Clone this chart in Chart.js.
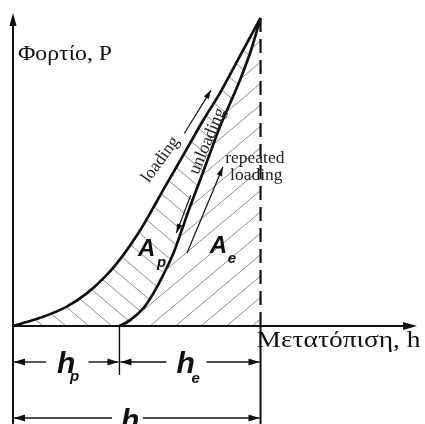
<!DOCTYPE html>
<html><head><meta charset="utf-8">
<script src="https://cdn.jsdelivr.net/npm/chart.js@4/dist/chart.umd.min.js"></script>
<style>html,body{margin:0;padding:0;background:#fff;}canvas{display:block;}</style>
</head><body>
<canvas id="c" width="425" height="424"></canvas>
<script>
// ---- data (normalised displacement h, normalised load P) ----
const loadH   = [0, 0.122, 0.217, 0.298, 0.379, 0.446, 0.506, 0.554, 0.607, 0.661, 0.715, 0.769, 0.836, 0.917, 1];
const loadP   = [0, 0.030, 0.063, 0.106, 0.166, 0.231, 0.301, 0.366, 0.442, 0.517, 0.593, 0.669, 0.756, 0.877, 1];
const unloadH = [0.43, 0.473, 0.526, 0.567, 0.607, 0.648, 0.682, 0.715, 0.756, 0.796, 0.836, 0.877, 0.917, 0.962, 1];
const unloadP = [0, 0.019, 0.057, 0.106, 0.166, 0.236, 0.312, 0.387, 0.474, 0.561, 0.647, 0.723, 0.799, 0.896, 1];
const maxH = [1, 1];
const maxP = [0, 1];
const loadArrowH   = [0.692, 0.800];
const loadArrowP   = [0.625, 0.766];
const unloadArrowH = [0.718, 0.660];
const unloadArrowP = [0.425, 0.302];
const reloadArrowH = [0.703, 0.848];
const reloadArrowP = [0.237, 0.516];
const hpValue = 0.43;
const hValue = 1;
const yTitle = 'Φορτίο, P';
const xTitle = 'Μετατόπιση, h';
const curveLabels = ['loading', 'unloading'];
const reloadLabel = ['repeated', 'loading'];
const areaLabels = [['A', 'p'], ['A', 'e']];
const dimLabels = [['h', 'p'], ['h', 'e'], ['h', '']];

const pts = (hs, ps) => hs.map((h, i) => ({x: h, y: ps[i]}));
const INK = '#111';

function trace(ctx, el, reverse) {
  const n = el.length;
  if (!reverse) {
    ctx.lineTo(el[0].x, el[0].y);
    for (let i = 1; i < n; i++) {
      const p = el[i - 1], c = el[i];
      ctx.bezierCurveTo(p.cp2x, p.cp2y, c.cp1x, c.cp1y, c.x, c.y);
    }
  } else {
    ctx.lineTo(el[n - 1].x, el[n - 1].y);
    for (let i = n - 1; i > 0; i--) {
      const c = el[i], p = el[i - 1];
      ctx.bezierCurveTo(c.cp1x, c.cp1y, p.cp2x, p.cp2y, p.x, p.y);
    }
  }
}
function hatch(ctx, x0, y0, step, ang, up) {
  const dx = Math.cos(ang), dy = Math.sin(ang) * (up ? -1 : 1);
  for (let k = -40; k <= 40; k++) {
    const xi = x0 + k * step;
    ctx.beginPath();
    ctx.moveTo(xi - dx * 600, y0 - dy * 600);
    ctx.lineTo(xi + dx * 600, y0 + dy * 600);
    ctx.stroke();
  }
}
function head(ctx, x1, y1, x2, y2, len, hw) {
  const a = Math.atan2(y2 - y1, x2 - x1);
  const c = Math.cos(a), s = Math.sin(a);
  ctx.beginPath();
  ctx.moveTo(x2, y2);
  ctx.lineTo(x2 - c * len - s * hw, y2 - s * len + c * hw);
  ctx.lineTo(x2 - c * len + s * hw, y2 - s * len - c * hw);
  ctx.closePath();
  ctx.fill();
}
function arrowLine(ctx, xa, xb, y, headAt) {
  ctx.beginPath(); ctx.moveTo(xa, y); ctx.lineTo(xb, y); ctx.stroke();
  if (headAt === 'a') head(ctx, xb, y, xa, y, 11, 3.5); else head(ctx, xa, y, xb, y, 11, 3.5);
}
function fitText(ctx, t, x, y, w) {
  const m = ctx.measureText(t).width;
  ctx.save(); ctx.translate(x, y); ctx.scale(w / m, 1); ctx.fillText(t, 0, 0); ctx.restore();
}

const drawPlugin = {
  id: 'sketch',
  beforeDatasetsDraw(chart) {
    const ctx = chart.ctx, X = v => chart.scales.x.getPixelForValue(v), Y = v => chart.scales.y.getPixelForValue(v);
    const L = chart.getDatasetMeta(0).data, U = chart.getDatasetMeta(1).data;
    ctx.save();
    ctx.strokeStyle = '#8c8c8c'; ctx.lineWidth = 1;
    ctx.save();
    ctx.beginPath();
    ctx.moveTo(L[0].x, L[0].y);
    trace(ctx, L, false);
    trace(ctx, U, true);
    ctx.closePath();
    ctx.clip();
    hatch(ctx, X(0) + 30, Y(0), 23, 40 * Math.PI / 180, false);
    ctx.restore();
    ctx.save();
    ctx.beginPath();
    ctx.moveTo(U[0].x, U[0].y);
    trace(ctx, U, false);
    ctx.lineTo(X(hValue), Y(0));
    ctx.closePath();
    ctx.clip();
    hatch(ctx, X(0) + 137, Y(0), 25.5, 40 * Math.PI / 180, true);
    ctx.restore();
    ctx.restore();
  },
  afterDatasetsDraw(chart) {
    const ctx = chart.ctx, X = v => chart.scales.x.getPixelForValue(v), Y = v => chart.scales.y.getPixelForValue(v);
    const ca = chart.chartArea;
    ctx.save();
    ctx.fillStyle = INK; ctx.strokeStyle = INK;
    ctx.lineWidth = 2;
    ctx.beginPath();
    ctx.moveTo(X(0), 424); ctx.lineTo(X(0), ca.top + 6);
    ctx.moveTo(X(0), Y(0)); ctx.lineTo(ca.right - 6, Y(0));
    ctx.stroke();
    head(ctx, X(0), 100, X(0), ca.top + 3, 13, 3.6);
    head(ctx, 300, Y(0), ca.right + 3, Y(0), 14, 4);
    ctx.beginPath();
    ctx.moveTo(X(hValue), Y(0)); ctx.lineTo(X(hValue), 424);
    ctx.stroke();
    ctx.lineWidth = 1.4;
    ctx.beginPath();
    ctx.moveTo(X(hpValue), Y(0)); ctx.lineTo(X(hpValue), Y(0) + 49);
    ctx.stroke();
    const heads = [[loadArrowH, loadArrowP], [unloadArrowH, unloadArrowP], [reloadArrowH, reloadArrowP]];
    heads.forEach(([hh, pp]) => head(ctx, X(hh[0]), Y(pp[0]), X(hh[1]), Y(pp[1]), 9, 2.8));
    ctx.lineWidth = 1.4;
    const y1 = Y(0) + 36, y2 = Y(0) + 92;
    const x0 = X(0), xp = X(hpValue), x1 = X(hValue);
    arrowLine(ctx, x0 + 1, x0 + 33, y1, 'a');
    arrowLine(ctx, xp - 31, xp - 1, y1, 'b');
    arrowLine(ctx, xp + 1, xp + 47, y1, 'a');
    arrowLine(ctx, x1 - 54, x1 - 1, y1, 'b');
    arrowLine(ctx, x0 + 1, x0 + 99, y2, 'a');
    arrowLine(ctx, x0 + 130, x1 - 1, y2, 'b');
    ctx.textBaseline = 'alphabetic'; ctx.textAlign = 'left';
    const big = 'bold italic 30px "Liberation Sans"', sub = 'bold italic 15px "Liberation Sans"';
    const dimPos = [[x0 + 44, y1 + 11], [xp + 57, y1 + 11], [x0 + 108, y2 + 12]];
    dimLabels.forEach(([m, s], i) => {
      const [tx, ty] = dimPos[i];
      ctx.font = big; ctx.fillText(m, tx, ty);
      if (s) { ctx.font = sub; ctx.fillText(s, tx + (s === 'p' ? 13 : 15), ty + (s === 'p' ? 8 : 10)); }
    });
    const aBig = 'bold italic 24px "Liberation Sans"', aSub = 'bold italic 15px "Liberation Sans"';
    const areaPos = [[X(0.505), Y(0.226), 19, 11], [X(0.795), Y(0.236), 18, 10]];
    areaLabels.forEach(([m, s], i) => {
      const [tx, ty, ox, oy] = areaPos[i];
      ctx.font = aBig; ctx.fillText(m, tx, ty);
      ctx.font = aSub; ctx.fillText(s, tx + ox, ty + oy);
    });
    ctx.font = '22px "Liberation Serif"';
    fitText(ctx, yTitle, X(0) + 5, 60, 94);
    ctx.font = '23px "Liberation Serif"';
    fitText(ctx, xTitle, X(hValue) - 4, Y(0) + 21, 164);
    ctx.font = '17.5px "Liberation Serif"';
    ctx.fillStyle = '#222';
    ctx.fillText(reloadLabel[0], X(0.857), 163);
    ctx.fillText(reloadLabel[1], X(0.877), 180);
    const rot = [[X(0.596), Y(0.540), -54], [X(0.786), Y(0.600), -67]];
    ctx.textAlign = 'center'; ctx.textBaseline = 'middle';
    curveLabels.forEach((t, i) => {
      const [tx, ty, a] = rot[i];
      ctx.save(); ctx.translate(tx, ty); ctx.rotate(a * Math.PI / 180);
      ctx.fillText(t, 0, 0); ctx.restore();
    });
    ctx.restore();
  }
};

const line = (data, w, extra) => Object.assign({
  data, showLine: true, borderColor: INK, borderWidth: w, pointRadius: 0,
  fill: false, clip: false, tension: 0
}, extra || {});

new Chart(document.getElementById('c'), {
  type: 'scatter',
  data: {
    datasets: [
      line(pts(loadH, loadP), 2.7, {cubicInterpolationMode: 'monotone'}),
      line(pts(unloadH, unloadP), 2.7, {cubicInterpolationMode: 'monotone'}),
      line(pts(maxH, maxP), 2.2, {borderDash: [14, 7]}),
      line(pts(loadArrowH, loadArrowP), 1.2),
      line(pts(unloadArrowH, unloadArrowP), 1.2),
      line(pts(reloadArrowH, reloadArrowP), 1.2)
    ]
  },
  options: {
    responsive: false, animation: false, maintainAspectRatio: false,
    layout: {padding: {left: 13, right: 11, top: 10, bottom: 98}},
    plugins: {legend: {display: false}, tooltip: {enabled: false}},
    scales: {
      x: {type: 'linear', min: 0, max: 1.62, display: false},
      y: {type: 'linear', min: 0, max: 1.026, display: false}
    }
  },
  plugins: [drawPlugin]
});
</script>
</body></html>
